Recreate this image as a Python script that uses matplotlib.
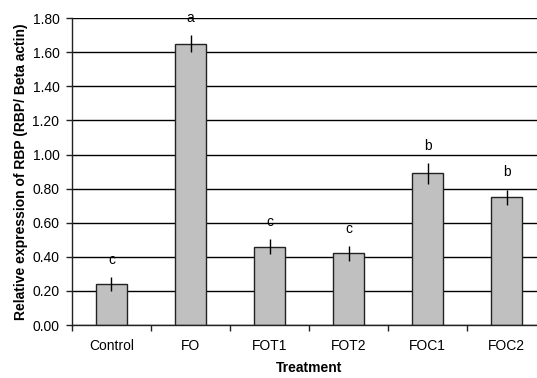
import matplotlib
matplotlib.use('Agg')
import matplotlib.pyplot as plt
import numpy as np

treatments = ['Control', 'FO', 'FOT1', 'FOT2', 'FOC1', 'FOC2']
expression = [0.24, 1.65, 0.46, 0.42, 0.89, 0.75]
errors = [0.04, 0.05, 0.045, 0.043, 0.06, 0.045]
letters = ['c', 'a', 'c', 'c', 'b', 'b']

plt.rcParams['font.family'] = ['Liberation Sans', 'DejaVu Sans']

fig = plt.figure(figsize=(5.37, 3.78), dpi=100)
ax = fig.add_axes([0.134, 0.140, 0.883, 0.812])

x = np.arange(len(treatments))
ax.set_axisbelow(True)
ax.yaxis.grid(True, color='black', linewidth=1.0)
ax.bar(x, expression, width=0.4, color='#c0c0c0', edgecolor='#222222', linewidth=1.0, zorder=2)
ax.errorbar(x, expression, yerr=errors, fmt='none', ecolor='black', elinewidth=1.0, capsize=0, zorder=3)

# significance letters above error bars
for xi, v, e, lab in zip(x, expression, errors, letters):
    ax.text(xi, v + e + 0.1, lab, ha='center', va='center', fontsize=10)

ax.set_xlim(-0.5, 5.5)
ax.set_ylim(0, 1.8)
ax.set_yticks(np.arange(0, 1.81, 0.2))
ax.set_yticklabels([f'{t:.2f}' for t in np.arange(0, 1.81, 0.2)])
ax.set_xticks(x)
ax.set_xticklabels(treatments)
ax.set_xticks(np.arange(-0.5, 6, 1), minor=True)
ax.tick_params(axis='x', which='major', length=0, pad=10, labelsize=10)
ax.tick_params(axis='x', which='minor', length=4, width=1, direction='out', color='#222222')
ax.tick_params(axis='y', length=4, width=1, labelsize=10, pad=5, color='#222222')

for s in ['top', 'right']:
    ax.spines[s].set_visible(False)
for s in ['left', 'bottom']:
    ax.spines[s].set_color('#222222')
    ax.spines[s].set_linewidth(1.0)

ax.set_xlabel('Treatment', fontsize=10, fontweight='bold', labelpad=6)
ax.set_ylabel('Relative expression of RBP (RBP/ Beta actin)', fontsize=10, fontweight='bold', labelpad=3)

fig.savefig('out.png', dpi=100)
